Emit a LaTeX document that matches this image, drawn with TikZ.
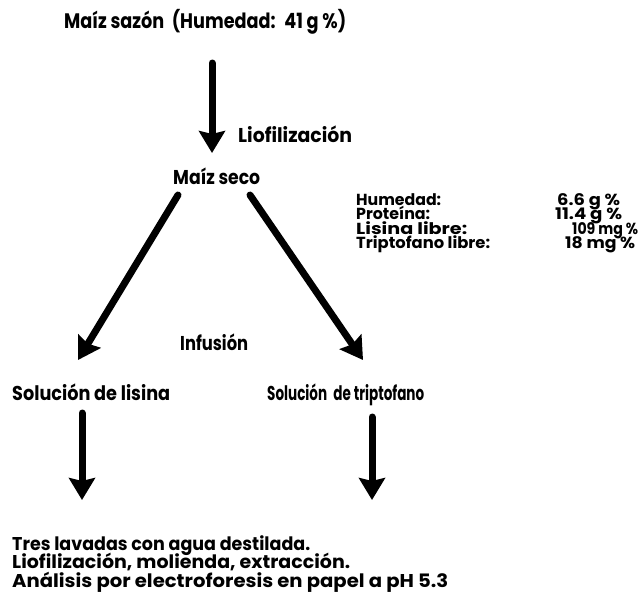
\documentclass[tikz,border=0pt]{standalone}
\usepackage{fontspec}
\setmainfont{Poppins}
\usepackage{graphicx}
\usetikzlibrary{arrows.meta}
\newcommand{\fitw}[2]{\resizebox{#1pt}{\height}{#2}}
\begin{document}
\begin{tikzpicture}[x=1pt,y=-1pt,
  txt/.style={anchor=base west,inner sep=0pt,font=\fontsize{20}{20}\selectfont\bfseries},
  bottxt/.style={anchor=base west,inner sep=0pt,font=\fontsize{18.5}{18.5}\selectfont\bfseries},
  tabtxt/.style={anchor=base west,inner sep=0pt,font=\fontsize{16}{16}\selectfont\bfseries},
  bigarrow/.style={line width=7pt,line cap=round,-{Stealth[length=22pt,width=26pt,inset=3pt]}}]
\useasboundingbox (0,0) rectangle (639,600);
\node[txt,font=\fontsize{21}{21}\selectfont\bfseries] (title) at (64,28) {\fitw{282}{Maíz sazón \ (Humedad: \ 41 g \%)}};
\node[txt] (liof) at (238,142) {\fitw{114}{Liofilización}};
\node[txt] (seco) at (173,184) {\fitw{87}{Maíz seco}};
\node[tabtxt] (l1) at (356,205) {\fitw{85}{Humedad:}};
\node[tabtxt] (l2) at (356,219.5) {\fitw{74}{Proteína:}};
\node[tabtxt] (l3) at (356,234) {\fitw{111}{Lisina libre:}};
\node[tabtxt] (l4) at (356,248.5) {\fitw{134}{Triptofano libre:}};
\node[tabtxt] (v1) at (557,205) {\fitw{63}{6.6 g \%}};
\node[tabtxt] (v2) at (555,219.5) {\fitw{67}{11.4 g \%}};
\node[tabtxt] (v3) at (572,234) {\fitw{66}{109 mg \%}};
\node[tabtxt] (v4) at (565,248.5) {\fitw{70}{18 mg \%}};
\node[txt] (inf) at (180,350) {\fitw{68}{Infusión}};
\node[txt] (sl) at (12,400) {\fitw{158}{Solución de lisina}};
\node[txt] (st) at (267,400) {\fitw{157}{Solución\hspace{0.25em} de triptofano}};
\node[bottxt] (b1) at (12,550) {\fitw{298}{Tres lavadas con agua destilada.}};
\node[bottxt] (b2) at (12,568.5) {\fitw{338}{Liofilización, molienda, extracción.}};
\node[bottxt] (b3) at (12,587) {\fitw{436}{Análisis por electroforesis en papel a pH 5.3}};
\coordinate (a1s) at (212,63);
\coordinate (a1e) at (212,153);
\coordinate (a2s) at (178,195);
\coordinate (a2e) at (78,360);
\coordinate (a3s) at (250,195);
\coordinate (a3e) at (363,360);
\coordinate (a4s) at (82,413);
\coordinate (a4e) at (82,500);
\coordinate (a5s) at (372,417);
\coordinate (a5e) at (372,500);
\draw[bigarrow] (a1s) -- (a1e);
\draw[bigarrow] (a2s) -- (a2e);
\draw[bigarrow] (a3s) -- (a3e);
\draw[bigarrow] (a4s) -- (a4e);
\draw[bigarrow] (a5s) -- (a5e);
\end{tikzpicture}
\end{document}
